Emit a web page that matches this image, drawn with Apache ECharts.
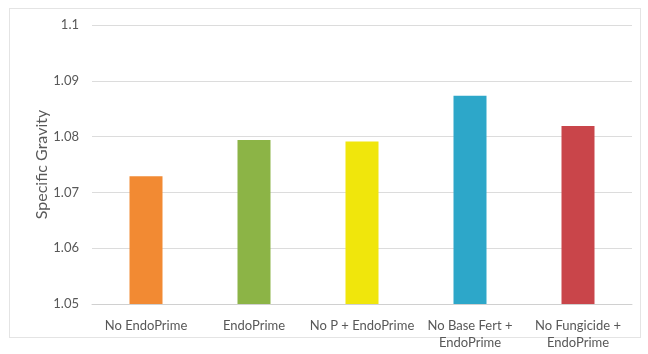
<!DOCTYPE html>
<html>
<head>
<meta charset="utf-8">
<script src="https://cdn.jsdelivr.net/npm/echarts@6/dist/echarts.min.js"></script>
<style>
  html, body { margin: 0; padding: 0; background: #fff; }
  #frame { position: absolute; left: 9px; top: 8px; width: 630px; height: 328px; border: 1px solid #e4e4e4; }
  #chart { position: absolute; left: 0; top: 0; width: 648px; height: 354px; }
</style>
</head>
<body>
<div id="frame"></div>
<div id="chart"></div>
<script>
var categories = ['No EndoPrime', 'EndoPrime', 'No P + EndoPrime', 'No Base Fert +\nEndoPrime', 'No Fungicide +\nEndoPrime'];
var values = [1.0729, 1.0794, 1.0791, 1.0873, 1.0819];
var barColors = ['#F28A33', '#8CB446', '#F0E60C', '#2DA7C9', '#C9454A'];
var yTicks = { min: 1.05, max: 1.1, interval: 0.01 };

var chart = echarts.init(document.getElementById('chart'));
var txt = '#585858';
chart.setOption({
  animation: false,
  grid: { left: 92, right: 16, top: 25, bottom: 50 },
  xAxis: {
    type: 'category',
    data: categories,
    axisTick: { show: false },
    axisLine: { lineStyle: { color: '#d0d0d0' } },
    axisLabel: { color: txt, fontFamily: 'Lato', fontSize: 13, margin: 13, lineHeight: 17, interval: 0 }
  },
  yAxis: {
    type: 'value',
    min: yTicks.min, max: yTicks.max, interval: yTicks.interval,
    name: 'Specific Gravity',
    nameLocation: 'middle',
    nameGap: 42,
    nameMoveOverlap: false,
    nameTextStyle: { color: txt, fontFamily: 'Lato', fontSize: 16 },
    axisLabel: {
      color: txt, fontFamily: 'Lato', fontSize: 13, margin: 13,
      formatter: function (v) { return String(+v.toFixed(2)); }
    },
    splitLine: { lineStyle: { color: '#dcdcdc' } }
  },
  series: [{
    type: 'bar',
    barWidth: 33,
    data: values.map(function (v, i) { return { value: v, itemStyle: { color: barColors[i] } }; })
  }]
});
</script>
</body>
</html>
